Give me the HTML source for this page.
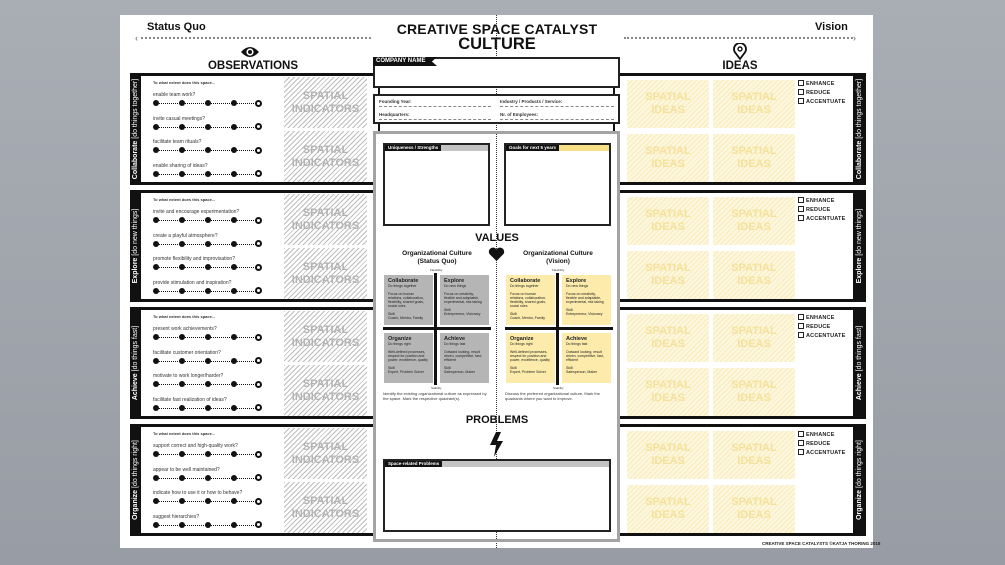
<!DOCTYPE html>
<html><head><meta charset="utf-8">
<style>
*{margin:0;padding:0;box-sizing:border-box}
body{width:1005px;height:565px;background:linear-gradient(#a9adb4,#989ca4);position:relative;overflow:hidden;font-family:"Liberation Sans",sans-serif;color:#111}
.a{position:absolute}
#poster{left:120px;top:15px;width:753px;height:533px;background:#fff}
.band{border:2px solid #111;border-top-width:3px;border-bottom-width:3px;background:#fff}
.side{background:#111}
.sl{position:absolute;white-space:nowrap;color:#fff;font-size:7px;transform:rotate(-90deg);transform-origin:center}
.hatch{background:repeating-linear-gradient(135deg,#bdbdbd 0 1px,#fff 1px 3.5px)}
.yh{background:repeating-linear-gradient(135deg,#f8ebb8 0 1px,#fdf7e0 1px 3.5px)}
.si{font-weight:bold;font-size:11px;line-height:13px;text-align:center;color:#b3b3b3;display:flex;align-items:center;justify-content:center;letter-spacing:0}
.yi{color:#f5e19a}
.q{font-size:5px;color:#333}
.dot{width:6px;height:6px;border-radius:50%;background:#111}
.ring{width:7px;height:7px;border-radius:50%;border:2px solid #111;background:#fff}
.dl{height:0;border-top:1px dotted #111}
.cb{font-size:5.5px;font-weight:bold;color:#222;letter-spacing:.2px}
.cb i{display:inline-block;width:6px;height:6px;border:1px solid #222;vertical-align:-1px;margin-right:2px}
.qd{background:#b5b5b5;font-size:3.5px;padding:3px 4px;color:#222}
.qd b{font-size:5.5px;display:block}
.yq{background:#fcebab}
.tab{background:#111;color:#fff;font-size:4.5px;font-weight:bold;padding:1px 3px}
</style></head><body>
<div id="poster" class="a"></div>

<!-- header -->
<div class="a" style="left:147px;top:21px;font-size:11px;font-weight:bold">Status Quo</div>
<div class="a" style="left:815px;top:21px;font-size:11px;font-weight:bold">Vision</div>
<div class="a" style="left:141px;top:37px;width:230px;border-top:2px dotted #888"></div>
<div class="a" style="left:135px;top:33px;font-size:9px;color:#888;font-weight:bold">‹</div>
<div class="a" style="left:624px;top:37px;width:229px;border-top:2px dotted #888"></div>
<div class="a" style="left:853px;top:33px;font-size:9px;color:#888;font-weight:bold">›</div>
<div class="a" style="left:380px;top:21px;width:234px;text-align:center;font-size:14px;font-weight:bold;letter-spacing:.2px">CREATIVE SPACE CATALYST</div>
<div class="a" style="left:380px;top:35px;width:234px;text-align:center;font-size:16.5px;font-weight:bold">CULTURE</div>
<div class="a" style="left:496px;top:15px;height:533px;border-left:1px dotted #333"></div>

<svg class="a" style="left:240px;top:45px" width="20" height="14" viewBox="0 0 20 14"><path d="M1 7 Q10 -3 19 7 Q10 17 1 7Z" fill="#111"/><circle cx="10" cy="7" r="3.6" fill="#fff"/><circle cx="10" cy="7" r="2" fill="#111"/></svg>
<div class="a" style="left:190px;top:60px;width:126px;text-align:center;font-size:11.5px;font-weight:bold">OBSERVATIONS</div>
<svg class="a" style="left:733px;top:43px" width="14" height="17" viewBox="0 0 14 17"><path d="M7 16 L2.5 10 A6 6 0 1 1 11.5 10Z" fill="none" stroke="#111" stroke-width="1.8"/><circle cx="7" cy="6" r="2" fill="none" stroke="#111" stroke-width="1.4"/></svg>
<div class="a" style="left:700px;top:60px;width:80px;text-align:center;font-size:11.5px;font-weight:bold">IDEAS</div>

<div id="bands"></div>

<!-- center -->
<div class="a" style="left:373px;top:57px;width:247px;height:31px;border:2px solid #222;background:#fff"></div>
<div class="a" style="left:373px;top:57px;width:64px;height:9px;background:#111;color:#fff;font-size:6px;font-weight:bold;padding:1px 3px;clip-path:polygon(0 0,100% 0,92% 50%,100% 100%,0 100%)">COMPANY NAME</div>
<div class="a" style="left:373px;top:94px;width:247px;height:30px;border:2px solid #222;background:#fff"></div>
<div class="a q" style="left:379px;top:99px;font-size:4.5px;font-weight:bold">Founding Year:</div>
<div class="a q" style="left:500px;top:99px;font-size:4.5px;font-weight:bold">Industry / Products / Service:</div>
<div class="a q" style="left:379px;top:112px;font-size:4.5px;font-weight:bold">Headquarters:</div>
<div class="a q" style="left:500px;top:112px;font-size:4.5px;font-weight:bold">Nr. of Employees:</div>
<div class="a" style="left:379px;top:106px;width:112px;border-top:1px dashed #888"></div>
<div class="a" style="left:500px;top:106px;width:114px;border-top:1px dashed #888"></div>
<div class="a" style="left:379px;top:119px;width:112px;border-top:1px dashed #888"></div>
<div class="a" style="left:500px;top:119px;width:114px;border-top:1px dashed #888"></div>

<div class="a" style="left:373px;top:131px;width:247px;height:411px;border:3px solid #a3a3a3;background:#fff"></div>
<div class="a" style="left:496px;top:134px;height:405px;border-left:1px dotted #333"></div>
<div class="a" style="left:383px;top:143px;width:107px;height:83px;border:2px solid #222;background:#fff"></div>
<div class="a" style="left:385px;top:145px;width:103px;height:6px;background:#c4c4c4"></div>
<div class="a tab" style="left:385px;top:145px;height:6px;padding-top:0">Uniqueness / Strengths</div>
<div class="a" style="left:504px;top:143px;width:107px;height:83px;border:2px solid #222;background:#fff"></div>
<div class="a" style="left:506px;top:145px;width:103px;height:6px;background:#f6df84"></div>
<div class="a tab" style="left:506px;top:145px;height:6px;padding-top:0">Goals for next 5 years</div>

<div class="a" style="left:440px;top:232px;width:114px;text-align:center;font-size:11px;font-weight:bold">VALUES</div>
<svg class="a" style="left:488px;top:247px" width="17" height="15" viewBox="0 0 17 15"><path d="M8.5 14 L1.5 7 A3.8 3.8 0 0 1 8.5 2.5 A3.8 3.8 0 0 1 15.5 7Z" fill="#111"/></svg>
<div class="a" style="left:385px;top:250px;width:104px;text-align:center;font-size:6.5px;font-weight:bold;line-height:8px">Organizational Culture<br>(Status Quo)</div>
<div class="a" style="left:506px;top:250px;width:104px;text-align:center;font-size:6.5px;font-weight:bold;line-height:8px">Organizational Culture<br>(Vision)</div>
<div id="quads"></div>
<div class="a q" style="left:383px;top:391px;width:108px;font-size:4px;line-height:5px">Identify the existing organizational culture as expressed by the space. Mark the respective quadrant(s).</div>
<div class="a q" style="left:505px;top:391px;width:108px;font-size:4px;line-height:5px">Discuss the preferred organizational culture. Mark the quadrants where you want to improve.</div>

<div class="a" style="left:440px;top:414px;width:114px;text-align:center;font-size:11px;font-weight:bold">PROBLEMS</div>
<svg class="a" style="left:489px;top:432px" width="16" height="25" viewBox="0 0 16 25"><path d="M7 0 L1 13 L7 13 L5 25 L14 9 L8 9 L12 0Z" fill="#111"/></svg>
<div class="a" style="left:383px;top:459px;width:228px;height:73px;border:2px solid #222;background:#fff"></div>
<div class="a" style="left:385px;top:461px;width:224px;height:6px;background:#c4c4c4"></div>
<div class="a tab" style="left:385px;top:461px;height:6px;padding-top:0">Space-related Problems</div>

<div class="a" style="left:762px;top:541px;font-size:4.5px;font-weight:bold;color:#222">CREATIVE SPACE CATALYSTS ©KATJA THORING 2018</div>

<script>
var B=[["Collaborate","[do things together]",["enable team work?","invite casual meetings?","facilitate team rituals?","enable sharing of ideas?"]],
["Explore","[do new things]",["invite and encourage experimentation?","create a playful atmosphere?","promote flexibility and improvisation?","provide stimulation and inspiration?"]],
["Achieve","[do things fast]",["present work achievements?","facilitate customer orientation?","motivate to work longer/harder?","facilitate fast realization of ideas?"]],
["Organize","[do things right]",["support correct and high-quality work?","appear to be well maintained?","indicate how to use it or how to behave?","suggest hierarchies?"]]];
var h="";
B.forEach(function(b,i){
 var y=73+i*117,H=112;
 h+='<div class="a band" style="left:130px;top:'+y+'px;width:250px;height:'+H+'px"></div>';
 h+='<div class="a side" style="left:130px;top:'+y+'px;width:11px;height:'+H+'px"></div>';
 h+='<div class="sl" style="left:'+(135.5-54)+'px;top:'+(y+H/2-5)+'px;width:108px;height:10px;text-align:center;line-height:10px"><b>'+b[0]+'</b> '+b[1]+'</div>';
 h+='<div class="a band" style="left:613px;top:'+y+'px;width:253px;height:'+H+'px"></div>';
 h+='<div class="a side" style="left:853px;top:'+y+'px;width:13px;height:'+H+'px"></div>';
 h+='<div class="sl" style="left:'+(859.5-54)+'px;top:'+(y+H/2-5)+'px;width:108px;height:10px;text-align:center;line-height:10px"><b>'+b[0]+'</b> '+b[1]+'</div>';
 h+='<div class="a q" style="left:153px;top:'+(y+7)+'px;font-size:4px;font-weight:bold">To what extent does this space...</div>';
 for(var k=0;k<4;k++){
  var ty=y+19+k*23.5;
  h+='<div class="a q" style="left:153px;top:'+ty+'px">'+b[2][k]+'</div>';
  var dy=ty+8;
  h+='<div class="a dl" style="left:156px;top:'+(dy+3)+'px;width:102px"></div>';
  [153,179,205,231].forEach(function(x){h+='<div class="a dot" style="left:'+x+'px;top:'+dy+'px"></div>'});
  h+='<div class="a ring" style="left:255px;top:'+(dy-0.5)+'px"></div>';
 }
 [4,58].forEach(function(o){
  h+='<div class="a hatch si" style="left:284px;top:'+(y+o)+'px;width:83px;height:51px">SPATIAL<br>INDICATORS</div>';
  [627,713].forEach(function(x){h+='<div class="a yh si yi" style="left:'+x+'px;top:'+(y+o+3)+'px;width:82px;height:48px">SPATIAL<br>IDEAS</div>'});
 });
 ["ENHANCE","REDUCE","ACCENTUATE"].forEach(function(t,j){h+='<div class="a cb" style="left:798px;top:'+(y+7+j*9)+'px"><i></i>'+t+'</div>'});
});
document.getElementById("bands").innerHTML=h;
var Q=[["Collaborate","Do things together","Focus on human relations, collaboration, flexibility, shared goals, social roles","Coach, Mentor, Family"],
["Explore","Do new things","Focus on creativity, flexible and adaptable, experimental, risk taking","Entrepreneur, Visionary"],
["Organize","Do things right","Well-defined processes, respect for position and power, excellence, quality","Expert, Problem Solver"],
["Achieve","Do things fast","Outward looking, result driven, competitive, fast, efficient","Salesperson, Maker"]];
var g="";
[383,505].forEach(function(X,s){
 Q.forEach(function(q,i){
  var x=X+1+(i%2)*56,y=275+Math.floor(i/2)*58;
  g+='<div class="a qd'+(s?' yq':'')+'" style="left:'+x+'px;top:'+y+'px;width:49px;height:50px"><b>'+q[0]+'</b>'+q[1]+'<br><br>'+q[2]+'<br><br>Skill:<br>'+q[3]+'</div>';
 });
 g+='<div class="a" style="left:'+(X+51)+'px;top:273px;width:3px;height:112px;background:#111"></div>';
 g+='<div class="a" style="left:'+(X)+'px;top:327px;width:108px;height:3px;background:#111"></div>';
 g+='<div class="a q" style="left:'+(X+47)+'px;top:268px;font-size:3px">Flexibility</div>';
 g+='<div class="a q" style="left:'+(X+48)+'px;top:386px;font-size:3px">Stability</div>';
});
document.getElementById("quads").innerHTML=g;
</script>
</body></html>
